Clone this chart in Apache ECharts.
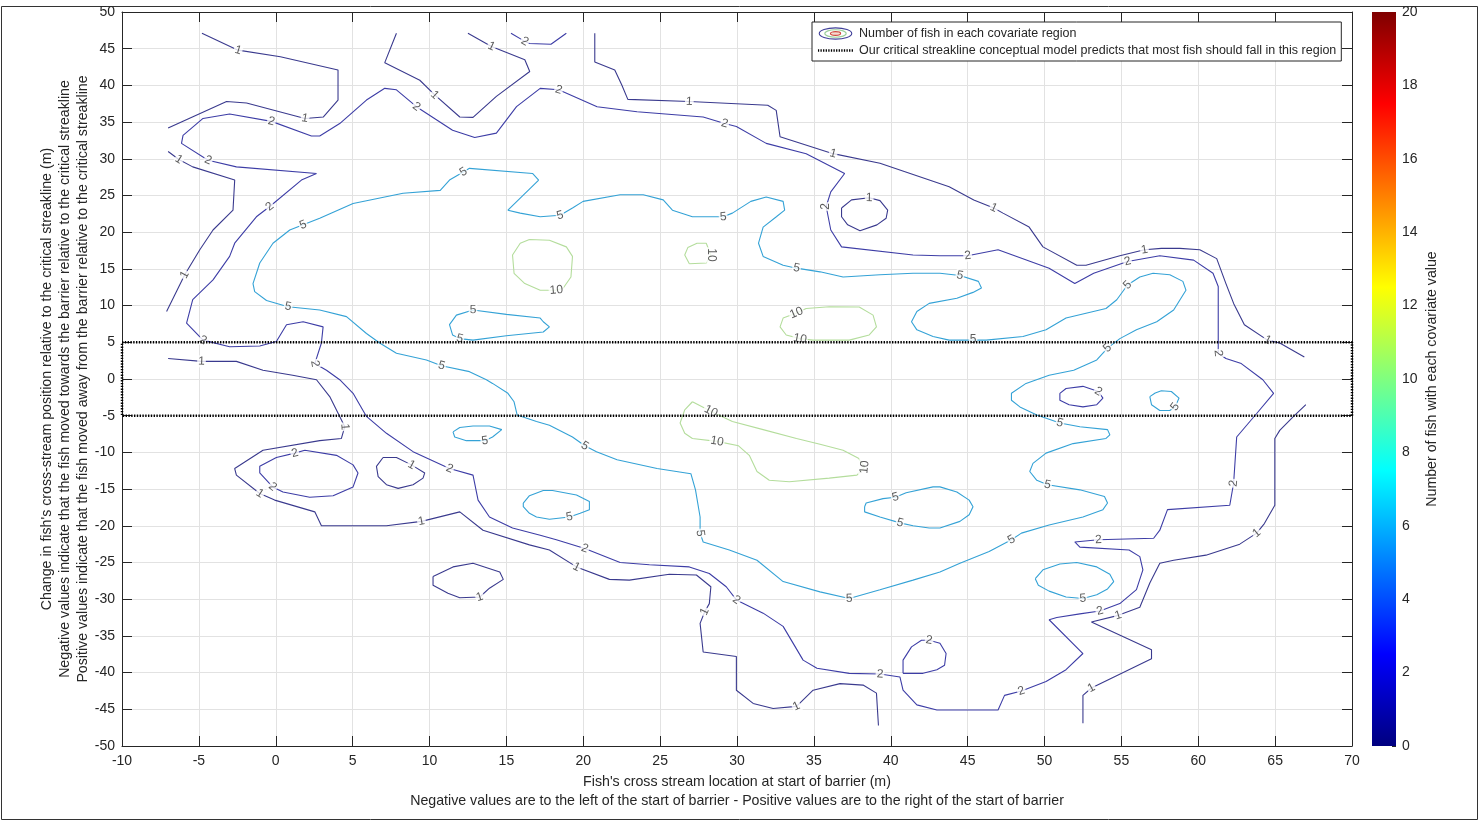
<!DOCTYPE html>
<html>
<head>
<meta charset="utf-8">
<title>Fish covariate contour</title>
<script src="https://cdn.jsdelivr.net/npm/echarts@6/dist/echarts.min.js"></script>
<style>
  html, body { margin: 0; padding: 0; background: #fff; }
  #chart { width: 1481px; height: 823px; }
</style>
</head>
<body>
<div id="chart"></div>
<script>
// axis ranges
var xMin = -10, xMax = 70, xStep = 5;
var yMin = -50, yMax = 50, yStep = 5;
var cbMin = 0, cbMax = 20, cbStep = 2;

// critical streakline band
var bandX = [-10, 70];
var bandY = [-5, 5];

// contour lines, [x, y] or [x, y, 1] where 1 = label sits here
// level 1
var c1_topLeft = [[-4.8,47.1],[-2.45,44.8,1],[0.3,43.9],[4.05,42.1],[4.05,38.0],[3.1,35.7],[1.9,35.5,1],[-1.9,37.6],[-3.2,37.8],[-7.0,34.2]];
var c1_topNotch = [[7.85,47.1],[7.09,43.1],[9.37,40.7],[10.34,38.7,1],[11.97,35.7],[12.83,35.65],[14.35,38.5],[16.52,41.9],[16.2,43.5],[14.03,45.3,1],[12.5,47.1]];
var c1_left = [[-7.0,31.0],[-6.3,29.9,1],[-5.4,28.9],[-2.67,27.1],[-2.78,23.0],[-4.08,20.3],[-4.94,17.6],[-5.92,14.2,1],[-7.1,9.2]];
var c1_bottom = [[-7.0,2.8],[-4.83,2.4,1],[-2.56,2.4],[-0.83,1.2],[1.1,0.5],[2.65,-0.1],[3.51,-2.4],[4.16,-5.1],[4.49,-6.5,1],[4.27,-8.1],
  [2.86,-8.4],[-0.83,-9.7],[-2.67,-12.2],[-2.56,-13.1],[-1.04,-15.6,1],[-0.07,-16.5],[2.54,-18.1],[2.97,-20.0],[7.2,-20.0],[9.48,-19.4,1],
  [11.97,-18.1],[13.48,-20.6],[16.5,-22.6],[17.8,-23.3],[19.56,-25.6,1],[21.7,-27.3],[23.0,-27.4],[25.6,-26.6],[27.36,-26.7],[28.3,-28.3],
  [28.2,-30.6],[27.9,-31.7,1],[27.6,-33.3],[27.8,-37.2],[29.96,-37.8],[29.96,-42.4],[31.05,-44.2],[32.35,-44.9],[33.87,-44.6,1],[34.95,-42.4],
  [36.7,-41.5],[38.2,-41.7],[39.07,-42.8],[39.2,-47.2]];
var c1_upperRight = [[20.75,47.1],[20.75,43.2],[22.05,42.1],[22.5,40.1],[22.9,38.1],[26.9,37.8,1],[32.0,37.3],[32.55,36.6],[32.8,33.0],[36.25,30.7,1],
  [39.3,29.4],[43.8,26.2],[45.4,24.4],[46.7,23.3,1],[47.3,22.6],[49.0,20.7],[49.9,18.0],[52.1,15.5],[52.7,15.5],[54.9,16.8],
  [56.5,17.6,1],[57.6,17.8],[58.8,17.8],[60.1,17.6],[61.2,16.4],[61.8,13.0],[62.3,10.3],[63.0,7.4],[64.5,5.3,1],[65.3,4.9],[66.9,3.0]];
var c1_lowerRight = [[52.5,-46.9],[52.5,-43.1],[53.05,-42.1,1],[56.96,-38.1],[56.96,-36.9],[53.05,-33.1],[54.8,-32.2,1],[56.2,-31.1],[56.85,-27.8],[57.5,-25.1],
  [58.4,-24.7],[60.5,-24.0],[62.7,-22.5],[63.8,-21.0,1],[64.3,-19.7],[64.98,-17.2],[64.98,-8.1],[65.3,-7.0],[66.2,-5.1],[67.0,-3.5]];
var c1_loopTop = [[36.8,23.3],[37.45,24.4],[38.6,24.7,1],[39.3,24.3],[39.8,23.0],[39.7,21.9],[39.1,21.0],[38.0,20.2],[37.2,21.0],[36.8,22.1],[36.8,23.3]];
var c1_loopMid = [[6.98,-10.7],[7.85,-10.7],[8.83,-11.7,1],[9.69,-12.8],[9.58,-13.5],[8.93,-14.4],[7.96,-14.9],[7.2,-14.4],[6.66,-13.3],[6.55,-11.9],[6.98,-10.7]];
var c1_loopLow = [[10.23,-26.9],[11.53,-25.6],[12.83,-25.1],[14.57,-26.3],[14.8,-27.3],[13.9,-28.5],[13.27,-29.7,1],[11.97,-29.8],[11.2,-29.2],[10.23,-28.1],[10.23,-26.9]];

// level 2
var c2_main = [[64.2,-0.1],[62.8,2.1],[61.8,2.8],[61.3,3.5,1],[61.3,12.6],[60.96,14.4],[59.7,16.2],[57.5,16.8],[55.4,16.0,1],[53.2,14.4],
  [51.97,13.0],[50.3,15.1],[46.98,17.6],[45.0,16.8,1],[43.2,16.8],[41.45,16.9],[36.8,18.0],[36.1,20.3],[35.8,23.5,1],[36.1,25.5],
  [37.0,28.0],[34.5,30.7],[31.9,32.1],[29.96,34.4],[29.2,34.8,1],[27.8,35.7],[23.5,36.4],[20.9,37.1],[18.4,39.4,1],[17.2,39.6],
  [15.66,37.1],[14.35,33.5],[12.94,32.9],[11.5,33.9],[9.15,37.1,1],[7.85,39.4],[7.09,39.6],[5.9,38.0],[4.16,34.8],[2.86,33.1],
  [2.32,33.1],[-0.28,35.1,1],[-3.0,36.1],[-4.73,35.5],[-6.03,33.2],[-6.13,32.1],[-4.4,29.8,1],[-2.56,28.9],[2.65,28.0],[1.67,27.1],
  [-0.39,23.5,1],[-1.26,22.1],[-2.67,18.5],[-3.0,16.7],[-4.08,13.5],[-5.4,10.8],[-5.8,7.6],[-4.73,5.3,1],[-3.0,4.4],[-1.04,4.5],
  [0.04,5.1],[0.7,7.4],[1.78,7.8],[3.08,7.1],[2.97,4.9],[2.54,2.1,1],[3.3,1.2],[4.16,-0.1],[5.03,-1.95],[5.9,-5.1],
  [7.2,-7.4],[8.93,-9.9],[11.3,-12.2,1],[12.83,-13.1],[13.16,-16.5],[13.9,-18.8],[15.4,-20.3],[17.2,-21.3],[18.25,-21.9],[20.1,-23.1,1],
  [22.4,-25.0],[24.3,-25.3],[26.9,-25.6],[28.2,-26.5],[29.3,-28.3],[29.96,-30.1,1],[31.7,-31.9],[33.0,-33.7],[34.3,-38.3],[35.2,-39.4],
  [37.3,-40.1],[39.3,-40.2,1],[40.6,-40.6],[40.8,-42.4],[41.7,-44.4],[43.0,-45.1],[46.98,-45.1],[47.4,-43.1],[48.5,-42.5,1],[50.1,-41.2],
  [51.4,-39.6],[52.5,-37.4],[50.3,-32.8],[50.8,-32.5],[52.3,-32.0],[53.6,-31.6,1],[54.9,-30.6],[55.98,-28.7],[56.4,-26.0],[56.2,-24.2],
  [55.5,-23.3],[52.3,-22.9],[51.97,-22.2],[53.5,-21.9,1],[57.1,-21.7],[57.5,-20.6],[58.0,-17.8],[62.05,-17.2],[62.3,-14.2,1],[62.5,-7.9],
  [63.8,-4.7],[64.9,-1.95],[64.2,-0.1]];
var c2_topStub = [[15.3,47.1],[16.2,46.0,1],[16.5,45.7],[17.9,45.6],[18.9,47.1]];
var c2_loopLeft = [[1.89,-9.7],[3.95,-10.4],[5.03,-11.7],[5.35,-12.8],[5.03,-14.7],[3.73,-15.9],[2.21,-16.1],[0.47,-15.4],[-0.2,-14.7,1],[-1.04,-12.8],
  [-1.04,-11.9],[0.04,-10.7],[1.24,-10.1,1],[1.89,-9.7]];
var c2_loopBottom = [[40.8,-40.1],[40.8,-38.3],[41.35,-36.5],[42.0,-35.6],[42.5,-35.6,1],[43.2,-36.0],[43.6,-37.4],[43.5,-39.0],[43.0,-39.6],[42.1,-40.1],[40.8,-40.1]];
var c2_loopRight = [[51.0,-1.95],[51.4,-1.3],[52.5,-1.0],[53.5,-1.7,1],[53.8,-2.6],[53.4,-3.5],[52.5,-3.8],[51.6,-3.5],[51.0,-2.9],[51.0,-1.95]];

// level 5
var c5_main = [[17.1,27.1],[16.7,28.0],[12.6,28.7],[12.2,28.2,1],[11.3,27.1],[10.7,25.7],[8.28,25.3],[5.03,23.9],[2.86,21.9],[1.78,21.0,1],
  [0.91,20.3],[-0.18,18.5],[-1.04,15.8],[-1.48,13.0],[-1.37,11.9],[-0.6,10.7],[0.8,9.85,1],[2.86,9.4],[4.6,8.5],[5.9,6.2],
  [6.76,4.9],[7.85,3.5],[9.8,2.6],[10.78,1.8,1],[12.6,1.0],[13.7,-0.1],[14.1,-0.6],[15.1,-1.95],[15.5,-3.1],[15.7,-4.9],
  [16.96,-5.8],[17.8,-6.3],[19.3,-7.9],[20.1,-9.1,1],[20.86,-9.9],[22.2,-11.0],[24.8,-12.2],[27.0,-12.9],[27.3,-15.1],[27.6,-18.8],
  [27.6,-21.0,1],[27.8,-22.2],[29.5,-23.3],[31.3,-24.7],[33.0,-27.6],[35.4,-29.0],[37.3,-29.9,1],[39.3,-28.7],[41.45,-27.4],[43.2,-26.3],
  [44.5,-25.1],[46.4,-23.5],[47.85,-21.9,1],[48.5,-21.0],[50.3,-19.9],[52.5,-18.8],[53.8,-17.8],[54.1,-16.9],[53.9,-16.0],[52.3,-15.1],
  [50.2,-14.4,1],[49.5,-13.8],[49.04,-12.6],[49.25,-11.5],[50.1,-10.1],[51.86,-8.8],[54.0,-8.1],[54.25,-7.6],[54.1,-6.9],[52.3,-6.5],
  [51.0,-6.0,1],[49.5,-4.9],[48.4,-3.8],[47.85,-2.9],[47.85,-1.95],[48.8,-0.6],[50.3,0.5],[51.9,1.2],[53.4,2.6],[54.1,4.2,1],
  [54.9,5.5],[55.98,6.7],[57.3,7.8],[58.4,9.4],[59.2,12.1],[59.0,13.3],[58.15,14.2],[57.06,14.4],[56.2,13.9],[55.4,12.8,1],
  [54.7,10.8],[54.0,9.6],[52.7,8.95],[51.4,8.3],[50.1,6.7],[48.6,5.8],[46.2,5.3],[45.35,5.3,1],[43.8,5.3],[42.75,5.8],
  [41.7,6.7],[41.35,7.8],[41.7,9.2],[42.5,10.3],[44.3,11.0],[45.35,11.8],[45.9,12.4],[45.7,13.3],[44.5,14.1,1],[43.2,14.4],
  [41.45,14.4],[39.3,14.2],[36.9,13.9],[35.4,14.6],[33.87,15.1,1],[33.0,15.5],[31.7,16.7],[31.4,18.5],[31.7,20.7],[32.56,22.1],
  [33.1,23.0],[33.0,24.2],[31.9,24.8],[30.9,24.2],[29.7,22.6],[29.1,22.1,1],[27.1,22.1],[25.8,23.0],[25.2,24.4],[23.9,25.1],
  [22.4,25.1],[19.99,24.2],[19.3,23.3],[18.5,22.3,1],[17.2,22.1],[15.9,22.6],[15.1,23.0],[17.1,27.1]];
var c5_loopA = [[12.83,9.4,1],[15.0,8.8],[17.2,8.3],[17.4,7.8],[17.8,7.1],[17.4,6.4],[15.0,5.9],[12.83,5.3],[11.97,5.5,1],[11.5,6.0],[11.3,7.4],[11.75,8.7],[12.83,9.4]];
var c5_loopB = [[11.53,-7.2],[11.97,-6.6],[12.83,-6.4],[13.9,-6.4],[14.7,-6.9],[14.1,-7.9],[13.6,-8.4,1],[12.4,-8.4],[11.64,-7.9],[11.53,-7.2]];
var c5_loopC = [[16.1,-16.9],[16.5,-15.9],[17.4,-15.2],[18.0,-15.2],[19.56,-15.8],[20.4,-16.7],[20.4,-17.8],[19.8,-18.3],[19.1,-18.8,1],[17.8,-19.1],
  [16.96,-18.8],[16.5,-18.3],[16.1,-17.4],[16.1,-16.9]];
var c5_loopD = [[38.3,-17.4],[38.4,-16.9],[39.5,-16.3],[40.3,-16.1,1],[41.0,-15.5],[42.75,-14.7],[43.2,-14.7],[44.3,-15.4],[45.1,-16.5],[45.35,-17.4],
  [45.1,-18.5],[44.5,-19.4],[43.2,-20.3],[42.5,-20.3],[41.45,-20.0],[40.6,-19.6,1],[39.3,-18.8],[38.3,-18.1],[38.3,-17.4]];
var c5_loopE = [[49.4,-27.2],[49.9,-26.0],[51.0,-25.2],[52.1,-25.0],[53.4,-25.6],[54.25,-26.6],[54.5,-27.6],[54.1,-28.6],[53.4,-29.4],[52.5,-29.9,1],
  [51.4,-29.7],[50.3,-28.9],[49.6,-28.1],[49.4,-27.2]];
var c5_loopF = [[56.85,-2.4],[57.2,-1.9],[57.6,-1.6],[58.25,-1.7],[58.75,-2.6],[58.5,-3.8,1],[58.15,-4.3],[57.5,-4.3],[56.96,-3.5],[56.85,-2.4]];

// level 10
var c10_loopA = [[16.5,19.0],[17.8,18.9],[18.9,18.0],[19.3,16.7],[19.2,13.9],[18.7,12.4],[18.25,12.1,1],[17.2,12.1],[16.2,13.0],[15.5,14.4],[15.4,16.9],[15.9,18.5],[16.5,19.0]];
var c10_loopB = [[26.9,15.7],[26.6,16.9],[26.8,17.9],[27.4,18.5],[28.0,18.5],[28.3,16.9,1],[28.0,15.8],[26.9,15.7]];
var c10_loopC = [[33.87,9.0,1],[34.5,9.6],[36.0,9.85],[37.95,9.8],[38.85,8.7],[39.07,7.1],[38.6,6.0],[37.3,5.3],[34.95,5.3],[34.1,5.5,1],[33.2,6.0],[32.8,7.1],[33.0,8.3],[33.87,9.0]];
var c10_loopD = [[27.1,-3.1],[28.3,-4.4,1],[29.7,-5.8],[31.7,-6.9],[33.87,-8.1],[35.4,-8.9],[36.9,-9.7],[37.9,-10.8],[38.3,-12.0,1],[37.8,-13.1],
  [36.0,-13.5],[33.4,-14.0],[32.1,-13.8],[31.3,-12.6],[30.8,-10.4],[30.1,-9.1],[28.7,-8.5,1],[27.1,-8.1],[26.6,-7.4],[26.3,-6.0],[26.6,-4.2],[27.1,-3.1]];

var contours = [
  { level: 1, pts: c1_topLeft }, { level: 1, pts: c1_topNotch }, { level: 1, pts: c1_left },
  { level: 1, pts: c1_bottom }, { level: 1, pts: c1_upperRight }, { level: 1, pts: c1_lowerRight },
  { level: 1, pts: c1_loopTop }, { level: 1, pts: c1_loopMid }, { level: 1, pts: c1_loopLow },
  { level: 2, pts: c2_main }, { level: 2, pts: c2_topStub }, { level: 2, pts: c2_loopLeft },
  { level: 2, pts: c2_loopBottom }, { level: 2, pts: c2_loopRight },
  { level: 5, pts: c5_main }, { level: 5, pts: c5_loopA }, { level: 5, pts: c5_loopB },
  { level: 5, pts: c5_loopC }, { level: 5, pts: c5_loopD }, { level: 5, pts: c5_loopE }, { level: 5, pts: c5_loopF },
  { level: 10, pts: c10_loopA }, { level: 10, pts: c10_loopB }, { level: 10, pts: c10_loopC }, { level: 10, pts: c10_loopD }
];

// jet colours for the levels (as they look in the picture)
var levelColors = { 1: '#3a3a8e', 2: '#3d3da6', 5: '#34a2d6', 10: '#b4dd9c' };

var CONTOUR_NAME = 'Number of fish in each covariate region';
var BAND_NAME = 'Our critical streakline conceptual model predicts that most fish should fall in this region';
var FONT = '"Liberation Sans", Arial, Helvetica, sans-serif';
var TXT = '#262626';

// plot box in pixels
var gridLeft = 122, gridTop = 12, gridW = 1230, gridH = 734;
var pxPerX = gridW / (xMax - xMin), pxPerY = gridH / (yMax - yMin);

var chart = echarts.init(document.getElementById('chart'));

var series = [];
var labelData = [];

contours.forEach(function (c) {
  var pts = c.pts, n = pts.length;
  var closed = pts[0][0] === pts[n - 1][0] && pts[0][1] === pts[n - 1][1];
  series.push({
    name: CONTOUR_NAME,
    type: 'line',
    xAxisIndex: 0, yAxisIndex: 0,
    data: pts.map(function (p) { return [p[0], p[1]]; }),
    symbol: 'none',
    silent: true,
    lineStyle: { color: levelColors[c.level], width: 1.1 },
    itemStyle: { color: levelColors[c.level] },
    z: 3
  });
  pts.forEach(function (p, i) {
    if (!p[2]) return;
    var a = i > 0 ? pts[i - 1] : (closed ? pts[n - 2] : pts[0]);
    var b = i < n - 1 ? pts[i + 1] : (closed ? pts[1] : pts[n - 1]);
    var ang = Math.atan2((b[1] - a[1]) * pxPerY, (b[0] - a[0]) * pxPerX) * 180 / Math.PI;
    if (ang > 90) ang -= 180;
    if (ang < -90) ang += 180;
    labelData.push({
      value: [p[0], p[1]],
      label: { rotate: ang, formatter: String(c.level) }
    });
  });
});

// contour labels
series.push({
  type: 'scatter',
  xAxisIndex: 0, yAxisIndex: 0,
  data: labelData,
  symbolSize: 1,
  itemStyle: { color: 'rgba(0,0,0,0)' },
  silent: true,
  label: {
    show: true,
    position: 'inside',
    fontSize: 12,
    fontFamily: FONT,
    color: '#333',
    backgroundColor: '#fff',
    padding: [0, 1]
  },
  z: 6
});

// dotted band
series.push({
  name: BAND_NAME,
  type: 'line',
  xAxisIndex: 0, yAxisIndex: 0,
  data: [[bandX[0], bandY[1]], [bandX[1], bandY[1]], [bandX[1], bandY[0]], [bandX[0], bandY[0]], [bandX[0], bandY[1]]],
  symbol: 'none',
  silent: true,
  clip: false,
  lineStyle: { color: '#000', width: 2.5, type: [1.4, 1.4] },
  itemStyle: { color: '#000' },
  z: 7
});

// colorbar
var jetStops = [
  { offset: 0, color: '#00007f' }, { offset: 0.125, color: '#0000ff' },
  { offset: 0.375, color: '#00ffff' }, { offset: 0.625, color: '#ffff00' },
  { offset: 0.875, color: '#ff0000' }, { offset: 1, color: '#7f0000' }
];
series.push({
  type: 'bar',
  xAxisIndex: 2, yAxisIndex: 2,
  data: [cbMax],
  barWidth: '100%',
  silent: true,
  itemStyle: { color: new echarts.graphic.LinearGradient(0, 1, 0, 0, jetStops) }
});

function svgIcon(body) {
  var svg = '<svg xmlns="http://www.w3.org/2000/svg" width="38" height="14" viewBox="0 0 38 14">' + body + '</svg>';
  return 'image://data:image/svg+xml;charset=utf-8,' + encodeURIComponent(svg);
}
var contourIcon = svgIcon(
  '<ellipse cx="19" cy="7" rx="17.5" ry="6" fill="none" stroke="#40409a" stroke-width="1.2"/>' +
  '<ellipse cx="19" cy="7" rx="11.5" ry="4" fill="none" stroke="#9ccf9a" stroke-width="1.2"/>' +
  '<ellipse cx="19" cy="7" rx="5.5" ry="2" fill="#f6d8cf" stroke="#d0493f" stroke-width="1.2"/>');
var bandIcon = svgIcon(
  '<line x1="0" y1="7" x2="38" y2="7" stroke="#000" stroke-width="2.5" stroke-dasharray="1.4 1.4"/>');

var axisLine = { show: true, onZero: false, lineStyle: { color: TXT, width: 1 } };

var option = {
  animation: false,
  backgroundColor: '#fff',
  textStyle: { fontFamily: FONT },
  grid: [
    { left: gridLeft, top: gridTop, width: gridW, height: gridH },
    { left: 1372, top: 12, width: 24, height: 734 }
  ],
  legend: {
    orient: 'vertical',
    left: 812, top: 22,
    data: [{ name: CONTOUR_NAME, icon: contourIcon }, { name: BAND_NAME, icon: bandIcon }],
    itemWidth: 37, itemHeight: 13, itemGap: 4,
    padding: [5, 5, 4, 5],
    borderColor: TXT, borderWidth: 1, borderRadius: 0,
    backgroundColor: '#fff',
    selectedMode: false,
    textStyle: { fontSize: 12.5, color: TXT, fontFamily: FONT }
  },
  xAxis: [
    {
      type: 'value', gridIndex: 0, min: xMin, max: xMax, interval: xStep, position: 'bottom',
      axisLine: axisLine,
      axisTick: { show: true, inside: true, length: 10, lineStyle: { color: TXT } },
      axisLabel: { color: TXT, fontSize: 14, margin: 8, fontFamily: FONT },
      splitLine: { show: true, lineStyle: { color: '#e2e2e2', width: 1 } },
      name: "Fish's cross stream location at start of barrier (m)\nNegative values are to the left of the start of barrier - Positive values are to the right of the start of barrier",
      nameLocation: 'middle', nameGap: 27,
      nameTextStyle: { color: TXT, fontSize: 14.2, lineHeight: 19, fontFamily: FONT }
    },
    {
      type: 'value', gridIndex: 0, min: xMin, max: xMax, interval: xStep, position: 'top',
      axisLine: axisLine,
      axisTick: { show: true, inside: true, length: 10, lineStyle: { color: TXT } },
      axisLabel: { show: false }, splitLine: { show: false }
    },
    { type: 'category', gridIndex: 1, data: ['cb'], show: false }
  ],
  yAxis: [
    {
      type: 'value', gridIndex: 0, min: yMin, max: yMax, interval: yStep, position: 'left',
      axisLine: axisLine,
      axisTick: { show: true, inside: true, length: 10, lineStyle: { color: TXT } },
      axisLabel: { color: TXT, fontSize: 14, margin: 7, fontFamily: FONT },
      splitLine: { show: true, lineStyle: { color: '#e2e2e2', width: 1 } },
      name: "Change in fish's cross-stream position relative to the critical streakline (m)\nNegative values indicate that the fish moved towards the barrier relative to the critical streakline\nPositive values indicate that the fish moved away from the barrier relative to the critical streakline",
      nameLocation: 'middle', nameRotate: 90, nameGap: 30, nameMoveOverlap: false,
      nameTextStyle: { color: TXT, fontSize: 14.2, lineHeight: 18, fontFamily: FONT }
    },
    {
      type: 'value', gridIndex: 0, min: yMin, max: yMax, interval: yStep, position: 'right',
      axisLine: axisLine,
      axisTick: { show: true, inside: true, length: 10, lineStyle: { color: TXT } },
      axisLabel: { show: false }, splitLine: { show: false }
    },
    {
      type: 'value', gridIndex: 1, min: cbMin, max: cbMax, interval: cbStep, position: 'right',
      axisLine: { show: false, onZero: false },
      axisTick: { show: true, inside: true, length: 4, lineStyle: { color: TXT } },
      axisLabel: { color: TXT, fontSize: 14, margin: 6, fontFamily: FONT },
      splitLine: { show: false },
      name: 'Number of fish with each covariate value',
      nameLocation: 'middle', nameRotate: 90, nameGap: 29,
      nameTextStyle: { color: TXT, fontSize: 14.2, fontFamily: FONT }
    }
  ],
  graphic: [{
    type: 'rect', silent: true, z: -10,
    shape: { x: 1.5, y: 6.5, width: 1476, height: 813 },
    style: { fill: 'none', stroke: '#333', lineWidth: 1 }
  }],
  series: series
};

chart.setOption(option);
</script>
</body>
</html>
